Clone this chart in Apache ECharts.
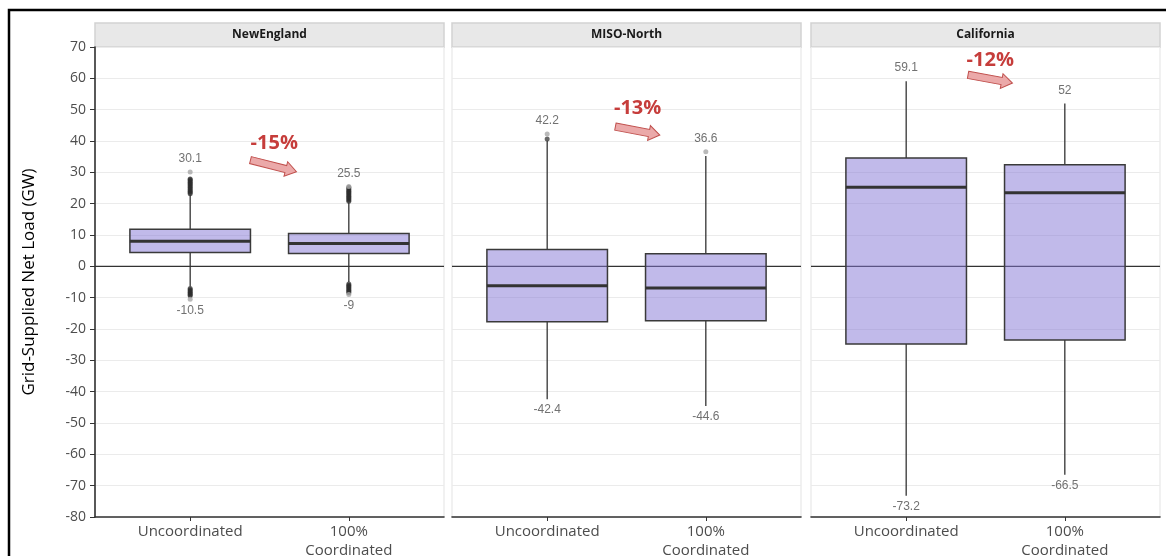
<!DOCTYPE html>
<html>
<head>
<meta charset="utf-8">
<script src="https://cdn.jsdelivr.net/npm/echarts@6/dist/echarts.min.js"></script>
<style>
  html, body { margin: 0; padding: 0; background: #ffffff; }
  #chart { width: 1166px; height: 556px; }
</style>
</head>
<body>
<div id="chart"></div>
<script>
// ---- data ----
const regions = ['NewEngland', 'MISO-North', 'California'];
const scenarios = ['Uncoordinated', '100%\nCoordinated'];

// [lower whisker, Q1, median, Q3, upper whisker] for each scenario
const boxNewEngland = [[-6.4, 4.4, 8.0, 11.8, 22.8], [-5.0, 4.1, 7.3, 10.5, 20.4]];
const boxMisoNorth = [[-42.4, -17.7, -6.2, 5.4, 40.1], [-44.6, -17.4, -6.9, 4.0, 35.2]];
const boxCalifornia = [[-73.2, -24.8, 25.2, 34.6, 59.1], [-66.5, -23.5, 23.5, 32.4, 52.0]];

// hours falling outside the whiskers
const outNewEngland = [
  [23.2, 23.6, 24.0, 24.4, 24.8, 25.2, 25.6, 26.0, 26.4, 26.8, 27.2, 27.6, 27.9,
   -7.1, -7.5, -7.9, -8.3, -8.7, -9.1, -9.4],
  [20.8, 21.2, 21.6, 22.0, 22.4, 22.8, 23.2, 23.6, 24.0, 24.4, 24.8, 25.2,
   -5.6, -6.0, -6.4, -6.8, -7.2, -7.6, -8.0, -8.4]
];
const outMisoNorth = [[40.6], []];
const outCalifornia = [[], []];

// labelled extremes
const peakMax = [[30.1, 25.5], [42.2, 36.6], [59.1, 52]];
const peakMin = [[-10.5, -9], [-42.4, -44.6], [-73.2, -66.5]];

// change in peak range between scenarios
const changeText = ['-15%', '-13%', '-12%'];

// value axis
const yMin = -80, yMax = 70, yStep = 10;

const boxes = [boxNewEngland, boxMisoNorth, boxCalifornia];
const outliers = [outNewEngland, outMisoNorth, outCalifornia];

// ---- layout ----
const PANEL_LEFT = [95, 452, 811];
const PANEL_W = 349;
const PLOT_TOP = 47;
const PLOT_H = 470;
const STRIP_TOP = 23;
const BOX_WIDTH = 0.76;       // in category units
const X_MIN = 0.4, X_MAX = 2.6;

// annotation placement in data units: [tailX, tailY, tipX, tipY, textX, textY]
const changeAnno = [
  [1.38, 33.9, 1.67, 30.2, 1.53, 39.4],
  [1.43, 44.6, 1.71, 41.9, 1.57, 50.5],
  [1.39, 61.1, 1.67, 58.5, 1.53, 65.8]
];

const INK = '#333333';
const TICK_TEXT = '#4d4d4d';
const FONT = '"Open Sans", "Noto Sans", sans-serif';

function renderBox(params, api) {
  const x = api.value(0);
  const lo = api.coord([x, api.value(1)]);
  const q1 = api.coord([x, api.value(2)]);
  const md = api.coord([x, api.value(3)]);
  const q3 = api.coord([x, api.value(4)]);
  const hi = api.coord([x, api.value(5)]);
  const w = api.size([BOX_WIDTH, 0])[0];
  const left = q1[0] - w / 2;
  return {
    type: 'group',
    children: [
      { type: 'line', shape: { x1: hi[0], y1: hi[1], x2: hi[0], y2: q3[1] },
        style: { stroke: INK, lineWidth: 1.3 } },
      { type: 'line', shape: { x1: lo[0], y1: q1[1], x2: lo[0], y2: lo[1] },
        style: { stroke: INK, lineWidth: 1.3 } },
      { type: 'rect', shape: { x: left, y: q3[1], width: w, height: q1[1] - q3[1] },
        style: { fill: 'rgba(132,117,214,0.5)', stroke: '#3a3a3a', lineWidth: 1.5 } },
      { type: 'line', shape: { x1: left, y1: md[1], x2: left + w, y2: md[1] },
        style: { stroke: INK, lineWidth: 3 } }
    ]
  };
}

function renderZero(params, api) {
  const a = api.coord([X_MIN, 0]);
  const b = api.coord([X_MAX, 0]);
  return { type: 'line', shape: { x1: a[0], y1: a[1], x2: b[0], y2: b[1] },
    style: { stroke: INK, lineWidth: 1.2 } };
}

function makeArrowRenderer(text) {
  return function (params, api) {
    const p0 = api.coord([api.value(0), api.value(1)]);
    const p1 = api.coord([api.value(2), api.value(3)]);
    const pt = api.coord([api.value(4), api.value(5)]);
    const dx = p1[0] - p0[0], dy = p1[1] - p0[1];
    const len = Math.sqrt(dx * dx + dy * dy);
    const ang = Math.atan2(dy, dx);
    const sh = 3.6, hh = 7.5, hl = 11;
    const pts = [[0, -sh], [len - hl, -sh], [len - hl, -hh], [len, 0],
                 [len - hl, hh], [len - hl, sh], [0, sh]];
    return {
      type: 'group',
      children: [
        { type: 'polygon', x: p0[0], y: p0[1], rotation: -ang, shape: { points: pts },
          style: { fill: '#eba9a9', stroke: '#c0504d', lineWidth: 1 } },
        { type: 'text', x: pt[0], y: pt[1],
          style: { text: text, fill: '#c63d3b', font: 'bold 20px ' + FONT,
                   align: 'center', verticalAlign: 'middle' } }
      ]
    };
  };
}

const grids = [], xAxes = [], yAxes = [], series = [], graphics = [];

// outer frame
graphics.push({
  type: 'rect', z: 0, silent: true,
  shape: { x: 9, y: 10, width: 1200, height: 600 },
  style: { fill: 'none', stroke: '#000000', lineWidth: 2.5 }
});

// y-axis title
graphics.push({
  type: 'text', x: 29, y: PLOT_TOP + PLOT_H / 2, rotation: Math.PI / 2, silent: true,
  style: { text: 'Grid-Supplied Net Load (GW)', fill: '#000000', font: '17px ' + FONT,
           align: 'center', verticalAlign: 'middle' }
});

regions.forEach((name, i) => {
  grids.push({
    left: PANEL_LEFT[i], top: PLOT_TOP, width: PANEL_W, height: PLOT_H,
    outerBoundsMode: 'none', containLabel: false,
    show: true, borderColor: '#e3e3e3', borderWidth: 1, backgroundColor: 'transparent'
  });

  // facet strip
  graphics.push({
    type: 'rect', silent: true,
    shape: { x: PANEL_LEFT[i], y: STRIP_TOP, width: PANEL_W, height: PLOT_TOP - STRIP_TOP },
    style: { fill: '#e8e8e8', stroke: '#d2d2d2', lineWidth: 1.5 }
  });
  graphics.push({
    type: 'text', silent: true, x: PANEL_LEFT[i] + PANEL_W / 2, y: (STRIP_TOP + PLOT_TOP) / 2,
    style: { text: name, fill: '#1a1a1a', font: 'bold 12px ' + FONT,
             align: 'center', verticalAlign: 'middle' }
  });

  xAxes.push({
    gridIndex: i, type: 'value', min: X_MIN, max: X_MAX,
    axisLine: { show: true, onZero: false, lineStyle: { color: INK, width: 1.6 } },
    axisTick: { show: true, customValues: [1, 2], length: 4, lineStyle: { color: INK } },
    axisLabel: {
      customValues: [1, 2], margin: 5, color: TICK_TEXT, fontSize: 15, fontFamily: FONT,
      lineHeight: 19, formatter: v => scenarios[Math.round(v) - 1]
    },
    splitLine: { show: false }
  });

  yAxes.push({
    gridIndex: i, type: 'value', min: yMin, max: yMax, interval: yStep,
    axisLine: { show: i === 0, onZero: false, lineStyle: { color: INK, width: 1.6 } },
    axisTick: { show: i === 0, length: 5, lineStyle: { color: INK } },
    axisLabel: { show: i === 0, margin: 9, color: TICK_TEXT, fontSize: 14, fontFamily: FONT },
    splitLine: { show: true, lineStyle: { color: '#ebebeb', width: 1 } }
  });

  series.push({
    type: 'custom', xAxisIndex: i, yAxisIndex: i, z: 1, silent: true,
    renderItem: renderZero, data: [[1, 0]]
  });

  series.push({
    type: 'custom', xAxisIndex: i, yAxisIndex: i, z: 2, silent: true,
    renderItem: renderBox,
    encode: { x: 0, y: [1, 2, 3, 4, 5] },
    data: boxes[i].map((b, k) => [k + 1].concat(b))
  });

  const pts = [];
  outliers[i].forEach((list, k) => list.forEach(v => pts.push([k + 1, v])));
  series.push({
    type: 'scatter', xAxisIndex: i, yAxisIndex: i, z: 3, silent: true,
    symbolSize: 5, itemStyle: { color: 'rgba(45,45,45,0.9)' }, data: pts
  });

  series.push({
    type: 'scatter', xAxisIndex: i, yAxisIndex: i, z: 4, silent: true, symbolSize: 5,
    data: peakMax[i].map((v, k) => ({
      value: [k + 1, v],
      itemStyle: { color: v > boxes[i][k][4] ? '#a8a8a8' : 'rgba(0,0,0,0)' }
    })),
    label: {
      show: true, position: 'top', distance: 4.5, color: TICK_TEXT,
      fontSize: 12, fontFamily: '"Liberation Sans", Arial, sans-serif',
      formatter: p => String(p.value[1])
    }
  });

  series.push({
    type: 'scatter', xAxisIndex: i, yAxisIndex: i, z: 4, silent: true, symbolSize: 5,
    data: peakMin[i].map((v, k) => ({
      value: [k + 1, v],
      itemStyle: { color: v < boxes[i][k][0] ? '#a8a8a8' : 'rgba(0,0,0,0)' }
    })),
    label: {
      show: true, position: 'bottom', distance: 2.5, color: TICK_TEXT,
      fontSize: 12, fontFamily: '"Liberation Sans", Arial, sans-serif',
      formatter: p => String(p.value[1])
    }
  });

  series.push({
    type: 'custom', xAxisIndex: i, yAxisIndex: i, z: 5, silent: true, clip: false,
    renderItem: makeArrowRenderer(changeText[i]),
    encode: { x: [0, 2, 4], y: [1, 3, 5] },
    data: [changeAnno[i]]
  });
});

const chart = echarts.init(document.getElementById('chart'), null, { renderer: 'canvas' });
chart.setOption({
  animation: false,
  backgroundColor: '#ffffff',
  grid: grids,
  xAxis: xAxes,
  yAxis: yAxes,
  series: series,
  graphic: graphics
});
</script>
</body>
</html>
